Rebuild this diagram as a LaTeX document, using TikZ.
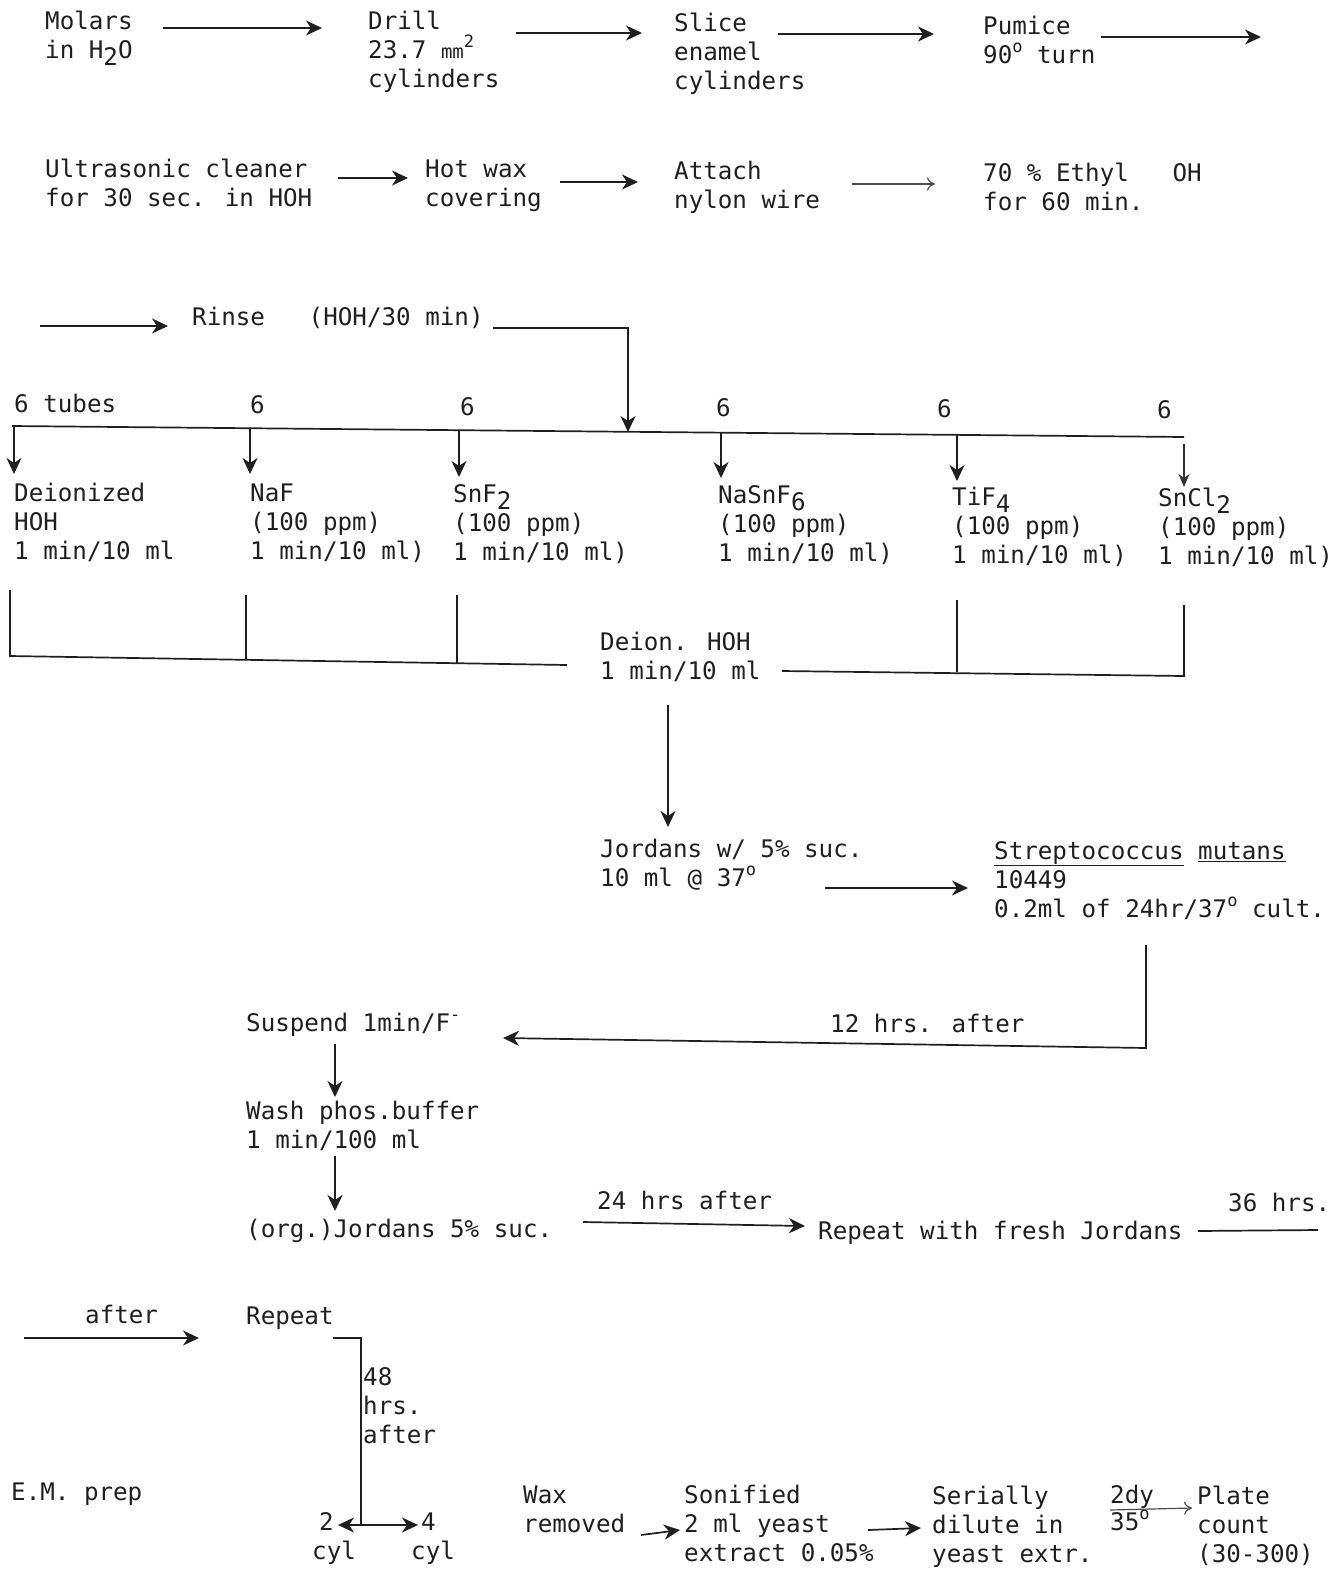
\documentclass[tikz,border=0pt]{standalone}
\usepackage{fontspec}
\newfontfamily\tw{DejaVu Sans Mono}
\usetikzlibrary{arrows.meta}
\newcommand\up[1]{\raisebox{0.42em}{\fontsize{17}{17}\selectfont #1}}
\newcommand\dn[1]{\raisebox{-0.3em}{#1}}
\begin{document}
\begin{tikzpicture}[x=1pt,y=-1pt,
  txt/.style={anchor=base west,inner sep=0pt,align=left,font=\tw\fontsize{24.2}{29}\selectfont,text=black!88},
  arr/.style={draw=black!88,line width=1.7pt,-{Stealth[length=16pt,width=15pt,inset=5pt]}},
  ln/.style={draw=black!88,line width=1.7pt},
  oarr/.style={draw=black!70,line width=1.2pt,-{To[length=8pt,width=13pt]}},
  tarr/.style={draw=black!80,line width=1.2pt,-{Stealth[length=13pt,width=11pt,inset=4pt]}}]
\useasboundingbox (0,0) rectangle (1343,1569);
\fill[white] (0,0) rectangle (1343,1569);

% Row 1 (base anchor = baseline of last line)
\node[txt] (molars) at (45,58) {Molars\\in H\dn{2}O};
\node[txt] (drill) at (368,87) {Drill\\23.7 {\fontsize{19}{19}\selectfont mm}\up{2}\\cylinders};
\node[txt] (slice) at (674,89) {Slice\\enamel\\cylinders};
\node[txt] (pumice) at (983,63) {Pumice\\90\up{o} turn};
\coordinate (r1a) at (163,28); \coordinate (r1b) at (322,28);
\coordinate (r1c) at (516,33); \coordinate (r1d) at (642,33);
\coordinate (r1e) at (778,34); \coordinate (r1f) at (934,34);
\coordinate (r1g) at (1101,37); \coordinate (r1h) at (1261,37);
\draw[arr] (r1a) -- (r1b);
\draw[arr] (r1c) -- (r1d);
\draw[arr] (r1e) -- (r1f);
\draw[arr] (r1g) -- (r1h);

% Row 2
\node[txt] (ultra) at (45,206) {Ultrasonic cleaner\\for 30 sec. in HOH};
\node[txt] (wax) at (425,206) {Hot wax\\covering};
\node[txt] (attach) at (674,208) {Attach\\nylon wire};
\node[txt] (ethyl) at (983,210) {70 \% Ethyl~~~OH\\for 60 min.};
\coordinate (r2a) at (338,178); \coordinate (r2b) at (408,178);
\coordinate (r2c) at (560,182); \coordinate (r2d) at (638,182);
\coordinate (r2e) at (852,184); \coordinate (r2f) at (935,184);
\draw[arr] (r2a) -- (r2b);
\draw[arr] (r2c) -- (r2d);
\draw[oarr] (r2e) -- (r2f);

% Row 3
\coordinate (r3a) at (40,326); \coordinate (r3b) at (168,326);
\draw[arr] (r3a) -- (r3b);
\node[txt] (rinse) at (192,325) {Rinse~~~(HOH/30 min)};
\coordinate (rs) at (493,328); \coordinate (rc) at (628,328); \coordinate (rd) at (628,432);
\draw[arr] (rs) -- (rc) -- (rd);

% bus
\coordinate (busL) at (12,426); \coordinate (busR) at (1184,437);
\draw[ln] (busL) -- (busR);
\node[txt] (n1) at (14,412) {6 tubes};
\node[txt] (n2) at (250,413) {6};
\node[txt] (n3) at (460,415) {6};
\node[txt] (n4) at (716,416) {6};
\node[txt] (n5) at (937,417) {6};
\node[txt] (n6) at (1157,418) {6};

\coordinate (d1a) at (14,426); \coordinate (d1b) at (14,474);
\coordinate (d2a) at (250,428); \coordinate (d2b) at (250,474);
\coordinate (d3a) at (459,430); \coordinate (d3b) at (459,477);
\coordinate (d4a) at (721,433); \coordinate (d4b) at (721,478);
\coordinate (d5a) at (957,435); \coordinate (d5b) at (957,481);
\coordinate (d6a) at (1184,444); \coordinate (d6b) at (1184,487);
\draw[arr] (d1a) -- (d1b);
\draw[arr] (d2a) -- (d2b);
\draw[arr] (d3a) -- (d3b);
\draw[arr] (d4a) -- (d4b);
\draw[arr] (d5a) -- (d5b);
\draw[tarr] (d6a) -- (d6b);

\node[txt] (t1) at (14,559) {Deionized\\HOH\\1 min/10 ml};
\node[txt] (t2) at (250,559) {NaF\\(100 ppm)\\1 min/10 ml)};
\node[txt] (t3) at (453,560) {SnF\dn{2}\\(100 ppm)\\1 min/10 ml)};
\node[txt] (t4) at (718,561) {NaSnF\dn{6}\\(100 ppm)\\1 min/10 ml)};
\node[txt] (t5) at (952,563) {TiF\dn{4}\\(100 ppm)\\1 min/10 ml)};
\node[txt] (t6) at (1158,564) {SnCl\dn{2}\\(100 ppm)\\1 min/10 ml)};

% return lines
\coordinate (u1) at (10,590); \coordinate (b1) at (10,656);
\coordinate (u2) at (246,595); \coordinate (b2) at (246,660);
\coordinate (u3) at (457,595); \coordinate (b3) at (457,663);
\coordinate (bL) at (567,665);
\draw[ln] (u1) -- (b1) -- (bL);
\draw[ln] (u2) -- (b2);
\draw[ln] (u3) -- (b3);
\node[txt] (deion) at (600,679) {Deion. HOH\\1 min/10 ml};
\coordinate (bR0) at (782,671);
\coordinate (u5) at (957,600); \coordinate (b5) at (957,672);
\coordinate (u6) at (1184,605); \coordinate (b6) at (1184,676);
\draw[ln] (bR0) -- (b6) -- (u6);
\draw[ln] (u5) -- (b5);

\coordinate (dv1) at (668,705); \coordinate (dv2) at (668,827);
\draw[arr] (dv1) -- (dv2);

\node[txt] (jord) at (600,886) {Jordans w/ 5\% suc.\\10 ml @ 37\up{o}};
\node[txt] (strep) at (994,917) {\underline{Streptococcus} \underline{mutans}\\10449\\0.2ml of 24hr/37\up{o} cult.};
\coordinate (j1) at (825,888); \coordinate (j2) at (968,888);
\draw[arr] (j1) -- (j2);

\coordinate (s1) at (1146,945); \coordinate (s2) at (1146,1048); \coordinate (s3) at (503,1038);
\draw[arr] (s1) -- (s2) -- (s3);
\node[txt] (h12) at (830,1032) {12 hrs. after};

\node[txt] (susp) at (246,1031) {Suspend 1min/F\up{-}};
\coordinate (w1) at (335,1044); \coordinate (w2) at (335,1097);
\draw[arr] (w1) -- (w2);
\node[txt] (wash) at (246,1148) {Wash phos.buffer\\1 min/100 ml};
\coordinate (w3) at (335,1156); \coordinate (w4) at (335,1211);
\draw[arr] (w3) -- (w4);
\node[txt] (org) at (246,1237) {(org.)Jordans 5\% suc.};
\coordinate (o1) at (583,1222); \coordinate (o2) at (805,1226);
\draw[arr] (o1) -- (o2);
\node[txt] (h24) at (597,1209) {24 hrs after};
\node[txt] (rep1) at (818,1239) {Repeat with fresh Jordans};
\coordinate (f1) at (1198,1231); \coordinate (f2) at (1318,1230);
\draw[ln] (f1) -- (f2);
\node[txt] (h36) at (1228,1211) {36 hrs.};

\coordinate (a1) at (24,1338); \coordinate (a2) at (199,1338);
\draw[arr] (a1) -- (a2);
\node[txt] (aft) at (85,1323) {after};
\node[txt] (rep2) at (246,1324) {Repeat};
\coordinate (q1) at (333,1338); \coordinate (q2) at (361,1338); \coordinate (q3) at (361,1525);
\draw[ln] (q1) -- (q2) -- (q3);
\node[txt] (h48) at (363,1443) {48\\hrs.\\after};
\coordinate (q4) at (338,1525); \coordinate (q5) at (418,1525);
\draw[arr] (q3) -- (q4);
\draw[arr] (q3) -- (q5);
\node[txt] (c2) at (312,1559) {\hspace*{7pt}2\\cyl};
\node[txt] (c4) at (411,1559) {\hspace*{10pt}4\\cyl};

\node[txt] (em) at (11,1500) {E.M. prep};
\node[txt] (waxr) at (523,1532) {Wax\\removed};
\node[txt] (son) at (684,1561) {Sonified\\2 ml yeast\\extract 0.05\%};
\node[txt] (ser) at (932,1562) {Serially\\dilute in\\yeast extr.};
\node[txt] (dy) at (1110,1503) {2dy};
\node[txt] (t35) at (1110,1530) {35\up{o}};
\node[txt] (plate) at (1197,1562) {Plate\\count\\(30-300)};
\coordinate (e1) at (641,1535); \coordinate (e2) at (680,1530);
\draw[arr] (e1) -- (e2);
\coordinate (e3) at (868,1530); \coordinate (e4) at (921,1528);
\draw[arr] (e3) -- (e4);
\coordinate (e5) at (1110,1510); \coordinate (e6) at (1192,1508);
\draw[oarr] (e5) -- (e6);
\end{tikzpicture}
\end{document}
